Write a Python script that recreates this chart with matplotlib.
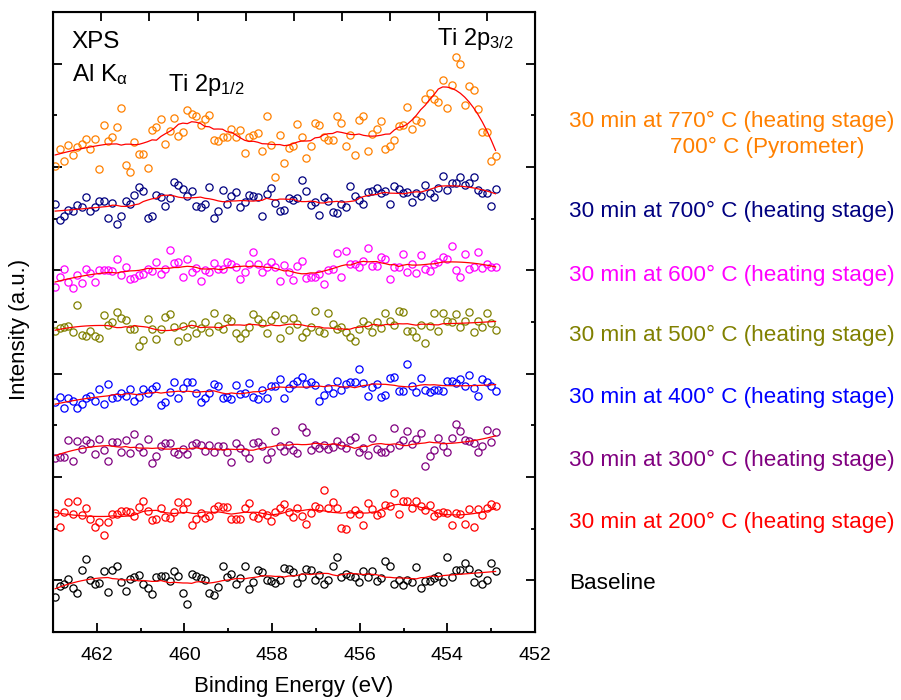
import matplotlib
matplotlib.use("Agg")
import matplotlib.pyplot as plt
import matplotlib.transforms as mtransforms
import numpy as np

plt.rcParams['font.family'] = ['Liberation Sans', 'DejaVu Sans']
plt.rcParams['mathtext.fontset'] = 'custom'
plt.rcParams['mathtext.rm'] = 'Liberation Sans'
plt.rcParams['mathtext.it'] = 'Liberation Sans'
plt.rcParams['mathtext.default'] = 'regular'

# binding energy grid (eV), same for every spectrum
energy = np.linspace(462.95, 452.9, 101)

# Ti 2p region, intensity in counts (a.u.) after each annealing step
baseline = [105, 138, 144, 160, 133, 118, 185, 219, 157, 145,
            146, 183, 121, 185, 197, 150, 123, 160, 164, 171,
            145, 133, 113, 164, 169, 169, 152, 183, 167, 118,
            84, 173, 169, 162, 157, 118, 111, 134, 197, 166,
            175, 144, 162, 198, 128, 150, 185, 181, 157, 154,
            147, 155, 193, 188, 181, 147, 166, 188, 187, 157,
            171, 144, 157, 197, 226, 164, 175, 169, 164, 149,
            182, 164, 183, 152, 161, 214, 199, 145, 157, 142,
            157, 150, 195, 133, 154, 154, 162, 168, 150, 224,
            165, 185, 187, 207, 188, 149, 177, 145, 157, 206, 183]

t200 = [156, 116, 159, 189, 153, 193, 151, 171, 139, 116,
        131, 91, 131, 153, 153, 164, 163, 159, 148, 174,
        193, 163, 136, 139, 173, 144, 141, 161, 189, 169,
        189, 121, 139, 158, 143, 149, 168, 178, 176, 176,
        139, 139, 138, 173, 188, 149, 143, 156, 151, 133,
        161, 171, 183,
        161, 146, 171, 149, 124, 156, 179, 171, 226, 173,
        191, 173, 113, 109, 153, 166, 153, 121, 186, 169,
        151, 158, 181, 179, 216, 153, 193, 193, 171, 193,
        177, 166, 180, 148, 156, 159, 156, 121, 156, 155,
        124, 169, 114, 169, 151, 173, 184, 177]

t300 = [123, 126, 126, 177, 113, 173, 149, 175, 167, 133,
        179, 145, 114, 169, 169, 139, 177, 136, 193, 154,
        141, 179, 108, 128, 159, 166, 166, 141, 135, 149,
        135, 161, 166, 161, 143, 161, 141, 158, 158, 139,
        109, 168, 151, 139, 123, 166, 171, 159, 119, 141,
        203, 158, 144,
        161, 146, 136, 216, 199, 146, 161, 151, 161, 148,
        156, 174, 161, 151, 176, 186, 139, 153, 131, 181,
        149, 139, 139, 151, 211, 161, 176, 203, 164, 179,
        196, 98, 129, 145, 181, 159, 141, 181, 224, 203,
        176, 174, 167, 141, 157, 205, 169, 201]

t400 = [139, 156, 123, 151, 143, 123, 133, 151, 159, 143,
        179, 134, 193, 153, 154, 166, 159, 179, 143, 156,
        178, 168, 178, 189, 130, 141, 169, 199, 151, 181,
        199, 201, 166, 141, 151, 166, 193, 188, 153, 156,
        149, 191, 163, 166, 196, 156, 149, 176, 153, 188,
        188, 209, 151,
        181, 194, 203, 216, 194, 199, 191, 144, 161, 181,
        166, 203, 176, 193, 199, 199, 239, 196, 159, 185,
        194, 156, 161, 211, 214, 174, 174, 255, 189, 171,
        211, 177, 169, 177, 177, 173, 204, 203, 196, 208,
        189, 221, 181, 159, 210, 199, 189, 174]

t500 = [153, 161, 166, 168, 150, 231, 140, 138, 154, 139,
        133, 200, 171, 181, 211, 191, 186, 158, 160, 109,
        126, 189, 158, 130, 158, 196, 203, 166, 124, 168,
        134, 174, 146, 161, 181, 149, 206, 168, 160, 192,
        184, 148, 132, 146, 166, 204, 190, 178, 148, 186,
        201, 131, 189,
        156, 191, 174, 136, 151, 164, 213, 153, 146, 206,
        174, 159, 164, 149, 134, 122, 158, 183, 170, 150,
        181, 162, 208, 184, 170, 214, 211, 154, 154, 134,
        171, 118, 167, 208, 154, 206, 184, 181, 203, 166,
        184, 211, 150, 184, 166, 208, 176, 156]

t600 = [136, 166, 188, 150, 131, 170, 148, 190, 176, 149,
        186, 186, 186, 184, 219, 172, 196, 158, 161, 171,
        173, 188, 182, 211, 174, 188, 246, 206, 211, 166,
        218, 181, 191, 154, 186, 181, 206, 189, 188, 210,
        204, 194, 158, 181, 205, 241, 204, 181, 196, 210,
        196, 154, 201,
        180, 155, 198, 213, 161, 164, 166, 173, 145, 186,
        188, 236, 164, 243, 204, 204, 194, 214, 252, 198,
        198, 224, 220, 160, 196, 196, 234, 180, 203, 176,
        231, 190, 184, 204, 211, 224, 218, 259, 186, 164,
        234, 190, 196, 240, 192, 204, 194, 196]

t700 = [183, 136, 148, 166, 164, 182, 174, 206, 163, 176,
        193, 193, 143, 188, 124, 149, 194, 183, 210, 234,
        223, 143, 149, 212, 204, 179, 203, 251, 241, 228,
        208, 223, 179, 174, 184, 236, 143, 164, 226, 183,
        208, 219, 176, 189, 210, 208, 204, 148, 213, 233,
        186, 163, 165,
        201, 196, 203, 256, 224, 181, 191, 152, 204, 193,
        159, 156, 183, 176, 238, 208, 196, 183, 221, 223,
        231, 216, 224, 185, 238, 229, 216, 221, 189, 218,
        208, 240, 218, 204, 231, 269, 226, 246, 248, 264,
        241, 246, 264, 226, 216, 216, 179, 229]

t770 = [99, 149, 114, 161, 130, 156, 164, 180, 149, 178,
        88, 220, 174, 184, 215, 272, 101, 81, 171, 135,
        135, 93, 205, 214, 239, 164, 202, 241, 188, 200,
        266, 253, 248, 222, 238, 252, 176, 174, 186, 186,
        210, 184, 206, 136, 186, 191, 198, 144, 247, 162, 66,
        190, 106, 151, 158, 223, 184, 121, 158, 227, 221,
        186, 176, 176, 247, 228, 158, 190, 130, 235, 249,
        142, 194, 208, 232, 148, 158, 176, 217, 222, 274,
        208, 237, 231, 299, 317, 298, 290, 356, 271, 342,
        426, 405, 281, 337, 325, 268, 200, 200, 114, 127]

spectra = [baseline, t200, t300, t400, t500, t600, t700, t770]
offsets = [0, 200, 400, 550, 750, 900, 1100, 1300]
colors = ['black', '#FF0000', '#800080', '#0000FF', '#808000',
          '#FF00FF', '#000080', '#FF8000']
labels = ['Baseline',
          '30 min at 200° C (heating stage)',
          '30 min at 300° C (heating stage)',
          '30 min at 400° C (heating stage)',
          '30 min at 500° C (heating stage)',
          '30 min at 600° C (heating stage)',
          '30 min at 700° C (heating stage)',
          '30 min at 770° C (heating stage)']
label_y = [147, 330, 516, 705, 891, 1071, 1263, 1533]


def smooth(y, window=25, order=2):
    # Savitzky-Golay style local quadratic fit, edges use the end windows
    y = np.asarray(y, dtype=float)
    n = len(y)
    h = window // 2
    idx = np.arange(n)
    out = np.empty(n)
    for i in range(n):
        lo = min(max(i - h, 0), n - window)
        c = np.polyfit(idx[lo:lo + window], y[lo:lo + window], order)
        out[i] = np.polyval(c, i)
    return out


fig = plt.figure(figsize=(9.01, 7.0), dpi=100)
ax = fig.add_axes([0.0588, 0.0971, 0.535, 0.8857])

for y, off, col in zip(spectra, offsets, colors):
    y = np.asarray(y, dtype=float) + off
    ax.plot(energy, y, 'o', mfc='none', mec=col, ms=5.2, mew=0.9)
    ax.plot(energy, smooth(y), '-', color='#FF0000', lw=0.9)

ax.set_xlim(463, 452)
ax.set_ylim(0, 1860)
ax.set_xticks(np.arange(462, 451, -2))
ax.set_xticks(np.arange(463, 451, -1), minor=True)
ax.set_yticks([155, 465, 775, 1085, 1395, 1705])
ax.set_yticks([310, 620, 930, 1240, 1550], minor=True)
ax.set_yticklabels([])
ax.tick_params(which='both', direction='in', width=1.3, labelsize=14,
               left=True, right=True, top=False, bottom=True)
ax.tick_params(which='major', length=6.5, pad=11)
ax.tick_params(which='minor', length=2.6)
for sp in ax.spines.values():
    sp.set_linewidth(1.5)

# top axis carries its own evenly spaced ticks
ax_top = ax.twiny()
ax_top.set_xlim(0, 10)
ax_top.set_xticks(np.arange(1, 10))
ax_top.tick_params(axis='x', direction='in', length=6.5, width=1.3,
                   labeltop=False)
ax_top.tick_params(axis='x', which='minor', top=False)

fig.text(0.326, 0.011, 'Binding Energy (eV)', fontsize=16, ha='center',
         va='baseline')
fig.text(0.022, 0.53, 'Intensity (a.u.)', fontsize=16, rotation=90,
         ha='center', va='center')

ax.text(0.039, 0.9415, 'XPS', transform=ax.transAxes, fontsize=17.5,
        ha='left', va='baseline')
ax.text(0.039, 0.889, 'Al K$_{α}$', transform=ax.transAxes, fontsize=17.5,
        ha='left', va='baseline')
ax.text(0.239, 0.873, 'Ti 2p$_{1/2}$', transform=ax.transAxes, fontsize=17,
        ha='left', va='baseline')
ax.text(0.797, 0.947, 'Ti 2p$_{3/2}$', transform=ax.transAxes, fontsize=17,
        ha='left', va='baseline')

trans = mtransforms.blended_transform_factory(ax.transAxes, ax.transData)
for lab, ly, col in zip(labels, label_y, colors):
    ax.text(1.07, ly, lab, transform=trans, color=col, fontsize=16.2,
            ha='left', va='center', clip_on=False)
ax.text(1.28, 1455, '700° C (Pyrometer)', transform=trans, color=colors[-1],
        fontsize=16.2, ha='left', va='center', clip_on=False)

fig.savefig('out.png', dpi=100)
